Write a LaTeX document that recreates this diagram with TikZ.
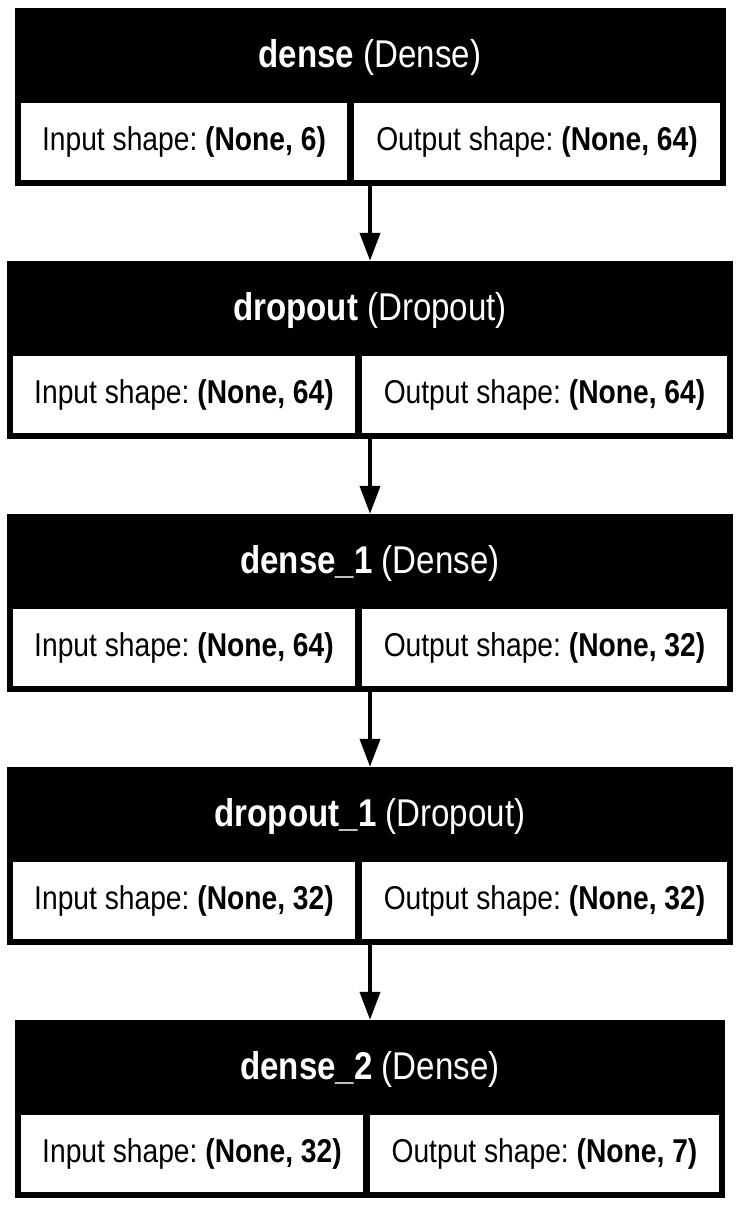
\documentclass[tikz,border=0pt]{standalone}
\usepackage{fontspec}
\setmainfont[FakeStretch=0.855]{Liberation Sans}
\usetikzlibrary{arrows.meta}
\frenchspacing
\tikzset{
  layer/.style={fill=black,inner sep=0pt,minimum height=178pt},
  title/.style={text=white,inner sep=0pt,font=\fontsize{38.7}{43}\selectfont},
  cell/.style={fill=white,inner sep=0pt,minimum height=77pt,
               font=\fontsize{33}{37}\selectfont},
  flow/.style={-{Triangle[length=28pt,width=20pt]},line width=4pt},
}

\begin{document}
\begin{tikzpicture}[x=1pt,y=1pt]
  \path[use as bounding box,fill=white] (0,0) rectangle (741,-1207);

  % dense
  \node[layer,minimum width=711pt] (dense) at (370,-97) {};
  \node[title] (dense-t) at (370,-57) {\textbf{dense} (Dense)};
  \node[cell,minimum width=326pt] (dense-in) at (184,-141.5)
    {Input shape: \textbf{(None, 6)}};
  \node[cell,minimum width=366pt] (dense-out) at (537,-141.5)
    {Output shape: \textbf{(None, 64)}};

  % dropout
  \node[layer,minimum width=726pt] (dropout) at (370,-350) {};
  \node[title] (dropout-t) at (370,-310) {\textbf{dropout} (Dropout)};
  \node[cell,minimum width=342pt] (dropout-in) at (184,-394.5)
    {Input shape: \textbf{(None, 64)}};
  \node[cell,minimum width=365pt] (dropout-out) at (544.5,-394.5)
    {Output shape: \textbf{(None, 64)}};

  % dense_1
  \node[layer,minimum width=726pt] (dense1) at (370,-603) {};
  \node[title] (dense1-t) at (370,-563) {\textbf{dense\_1} (Dense)};
  \node[cell,minimum width=342pt] (dense1-in) at (184,-647.5)
    {Input shape: \textbf{(None, 64)}};
  \node[cell,minimum width=365pt] (dense1-out) at (544.5,-647.5)
    {Output shape: \textbf{(None, 32)}};

  % dropout_1
  \node[layer,minimum width=726pt] (dropout1) at (370,-856) {};
  \node[title] (dropout1-t) at (370,-816) {\textbf{dropout\_1} (Dropout)};
  \node[cell,minimum width=342pt] (dropout1-in) at (184,-900.5)
    {Input shape: \textbf{(None, 32)}};
  \node[cell,minimum width=365pt] (dropout1-out) at (544.5,-900.5)
    {Output shape: \textbf{(None, 32)}};

  % dense_2
  \node[layer,minimum width=710pt] (dense2) at (370,-1109) {};
  \node[title] (dense2-t) at (370,-1069) {\textbf{dense\_2} (Dense)};
  \node[cell,minimum width=342pt] (dense2-in) at (192,-1153.5)
    {Input shape: \textbf{(None, 32)}};
  \node[cell,minimum width=349pt] (dense2-out) at (544.5,-1153.5)
    {Output shape: \textbf{(None, 7)}};

  \draw[flow] (dense.south) -- (dropout.north);
  \draw[flow] (dropout.south) -- (dense1.north);
  \draw[flow] (dense1.south) -- (dropout1.north);
  \draw[flow] (dropout1.south) -- (dense2.north);
\end{tikzpicture}
\end{document}
